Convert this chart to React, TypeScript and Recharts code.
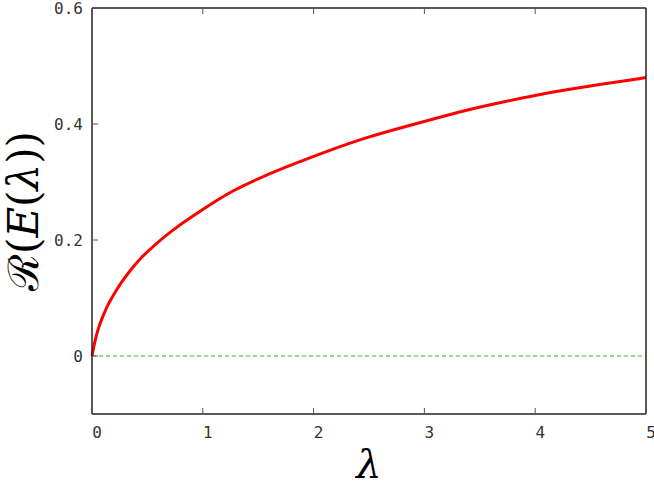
import React from 'react';
import { LineChart, Line, XAxis, YAxis, ReferenceLine, Label } from 'recharts';

const lambdas = [0, 0.024, 0.054, 0.099, 0.144, 0.205, 0.264, 0.355, 0.433, 0.584, 0.734, 0.884, 1.035, 1.245, 1.546, 1.847, 2.148, 2.479, 2.78, 3.05, 3.41, 3.71, 4.01, 4.31, 4.61, 5.0];
const values = [0, 0.024, 0.047, 0.069, 0.089, 0.109, 0.127, 0.15, 0.168, 0.195, 0.218, 0.238, 0.257, 0.283, 0.31, 0.333, 0.355, 0.377, 0.393, 0.407, 0.4255, 0.438, 0.45, 0.46, 0.469, 0.48];
const xTicks = [0, 1, 2, 3, 4, 5];
const yTicks = [0, 0.2, 0.4, 0.6];

const data = lambdas.map((l, i) => ({ l, v: values[i] }));

const tickFont = { fontFamily: '"DejaVu Sans Mono", monospace', fontSize: 16, fill: '#333' };

const BottomTick = (props: any) => {
  const { x, y, payload } = props;
  return (
    <g>
      <line x1={x} x2={x} y1={y} y2={y - 6} stroke="#555" strokeWidth={1} />
      <text x={x + 5} y={y + 24} textAnchor="middle" {...tickFont}>{payload.value}</text>
    </g>
  );
};
const TopTick = (props: any) => {
  const { x, y } = props;
  return <line x1={x} x2={x} y1={y} y2={y + 6} stroke="#555" strokeWidth={1} />;
};
const LeftTick = (props: any) => {
  const { x, y, payload } = props;
  return (
    <g>
      <line x1={x} x2={x + 6} y1={y} y2={y} stroke="#555" strokeWidth={1} />
      <text x={x - 9} y={y + 6} textAnchor="end" {...tickFont}>{payload.value}</text>
    </g>
  );
};
const RightTick = (props: any) => {
  const { x, y } = props;
  return <line x1={x} x2={x - 6} y1={y} y2={y} stroke="#555" strokeWidth={1} />;
};

export default function App() {
  return (
    <div style={{ position: 'absolute', left: 0, top: 0, width: 654, height: 491, background: '#fff' }}>
      <LineChart width={654} height={491} data={data} margin={{ top: 7, right: 7, left: 0, bottom: 0 }}>
        <XAxis xAxisId="b" dataKey="l" type="number" domain={[0, 5]} ticks={xTicks} orientation="bottom" height={77}
          axisLine={{ stroke: '#222', strokeWidth: 1.5 }} tickLine={false} tickSize={0} tickMargin={0} tick={<BottomTick />} interval={0}>
          <Label content={() => (
            <text x={369} y={478} textAnchor="middle" fontFamily='"DejaVu Serif", serif' fontStyle="italic" fontSize={40} fill="#000">λ</text>
          )} />
        </XAxis>
        <XAxis xAxisId="t" dataKey="l" type="number" domain={[0, 5]} ticks={xTicks} orientation="top" height={1}
          axisLine={{ stroke: '#222', strokeWidth: 1.5 }} tickLine={false} tickSize={0} tickMargin={0} tick={<TopTick />} interval={0} />
        <YAxis yAxisId="l" type="number" domain={[-0.1, 0.6]} ticks={yTicks} orientation="left" width={92}
          axisLine={{ stroke: '#222', strokeWidth: 1.5 }} tickLine={false} tickSize={0} tickMargin={0} tick={<LeftTick />} interval={0}>
          <Label content={() => (
            <text transform="translate(38,211) rotate(-90)" textAnchor="middle" fontFamily='"DejaVu Serif", serif' fontSize={42} fill="#000">
              <tspan>ℛ(</tspan><tspan fontStyle="italic">E</tspan><tspan>(</tspan><tspan fontStyle="italic">λ</tspan><tspan>))</tspan>
            </text>
          )} />
        </YAxis>
        <YAxis yAxisId="r" type="number" domain={[-0.1, 0.6]} ticks={yTicks} orientation="right" width={1}
          axisLine={{ stroke: '#222', strokeWidth: 1.5 }} tickLine={false} tickSize={0} tickMargin={0} tick={<RightTick />} interval={0} />
        <ReferenceLine xAxisId="b" yAxisId="l" y={0} stroke="#22bb22" strokeWidth={1} strokeDasharray="4 3" />
        <Line xAxisId="b" yAxisId="l" type="basis" dataKey="v" stroke="#ff0000" strokeWidth={3} dot={false} isAnimationActive={false} />
      </LineChart>
    </div>
  );
}
